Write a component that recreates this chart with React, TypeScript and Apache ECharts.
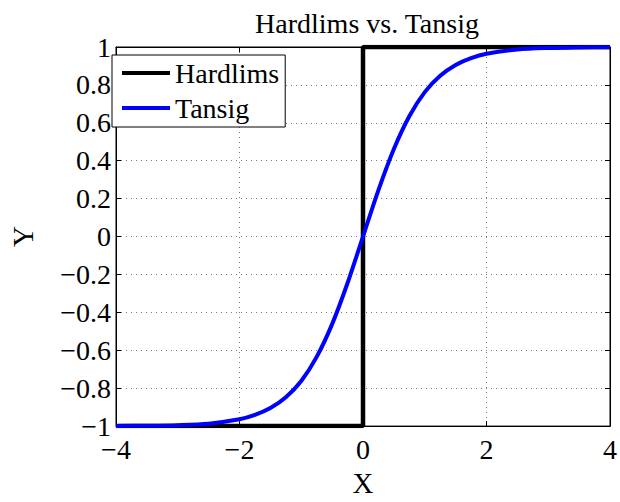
import React, { useEffect, useRef } from "react";
import * as echarts from "echarts";

const xValues = [-4, -3.5, -3, -2.5, -2, -1.75, -1.5, -1.25, -1, -0.75, -0.5, -0.25, 0, 0.25, 0.5, 0.75, 1, 1.25, 1.5, 1.75, 2, 2.5, 3, 3.5, 4];
const tansigValues = [-0.999, -0.998, -0.995, -0.987, -0.964, -0.941, -0.905, -0.848, -0.762, -0.635, -0.462, -0.245, 0, 0.245, 0.462, 0.635, 0.762, 0.848, 0.905, 0.941, 0.964, 0.987, 0.995, 0.998, 0.999];
const hardlimsX = [-4, 0, 0, 4];
const hardlimsY = [-1, -1, 1, 1];

const FONT = "Liberation Serif";
const fmt = (v: number) => {
  const s = String(Math.round(v * 10) / 10);
  return s.startsWith("-") ? "\u2212" + s.slice(1) : s;
};

export default function App() {
  const ref = useRef<HTMLDivElement>(null);
  useEffect(() => {
    if (!ref.current) return;
    const chart = echarts.init(ref.current, null, { renderer: "svg" });
    const tick = { show: true, inside: true, length: 5, lineStyle: { color: "#000" } };
    const line = { show: true, onZero: false, lineStyle: { color: "#000" } };
    const split = { show: true, lineStyle: { color: "#777", type: [1, 4], width: 1 } };
    chart.setOption({
      animation: false,
      backgroundColor: "#fff",
      title: {
        text: "Hardlims vs. Tansig",
        left: 362,
        top: 4,
        textAlign: "center",
        textStyle: { fontFamily: FONT, fontSize: 28, fontWeight: "normal", color: "#000" },
      },
      grid: { left: 104, right: 6, top: 47, bottom: 63, show: true, borderColor: "#000", borderWidth: 1 },
      legend: {
        left: 112,
        top: 55,
        orient: "vertical",
        icon: "rect",
        itemWidth: 48,
        itemHeight: 4,
        itemGap: 7,
        padding: [4, 6, 5, 10],
        borderColor: "#000",
        borderWidth: 1,
        backgroundColor: "#fff",
        textStyle: { fontFamily: FONT, fontSize: 28, color: "#000", lineHeight: 28 },
        data: ["Hardlims", "Tansig"],
      },
      xAxis: [
        {
          type: "value",
          min: -4,
          max: 4,
          interval: 2,
          name: "X",
          nameLocation: "middle",
          nameGap: 35,
          nameTextStyle: { fontFamily: FONT, fontSize: 29, color: "#000" },
          axisLine: line,
          axisTick: tick,
          axisLabel: { fontFamily: FONT, fontSize: 28, color: "#000", margin: 9, formatter: fmt },
          splitLine: split,
        },
        {
          type: "value",
          min: -4,
          max: 4,
          interval: 2,
          position: "top",
          axisLine: line,
          axisTick: tick,
          axisLabel: { show: false },
          splitLine: { show: false },
        },
      ],
      yAxis: [
        {
          type: "value",
          min: -1,
          max: 1,
          interval: 0.2,
          name: "Y",
          nameLocation: "middle",
          nameGap: 79,
          nameRotate: 90,
          nameTextStyle: { fontFamily: FONT, fontSize: 29, color: "#000" },
          axisLine: line,
          axisTick: tick,
          axisLabel: { fontFamily: FONT, fontSize: 28, color: "#000", margin: 5, formatter: fmt },
          splitLine: split,
        },
        {
          type: "value",
          min: -1,
          max: 1,
          interval: 0.2,
          position: "right",
          axisLine: line,
          axisTick: tick,
          axisLabel: { show: false },
          splitLine: { show: false },
        },
      ],
      series: [
        {
          name: "Hardlims",
          type: "line",
          data: hardlimsX.map((x, i) => [x, hardlimsY[i]]),
          showSymbol: false,
          symbol: "none",
          color: "#000",
          lineStyle: { color: "#000", width: 4.5 },
          z: 2,
        },
        {
          name: "Tansig",
          type: "line",
          data: xValues.map((x, i) => [x, tansigValues[i]]),
          showSymbol: false,
          symbol: "none",
          smooth: 0.3,
          color: "#0000ff",
          lineStyle: { color: "#0000ff", width: 4 },
          z: 3,
        },
      ],
    });
    return () => chart.dispose();
  }, []);
  return <div ref={ref} style={{ width: 620, height: 502, position: "absolute", left: 0, top: 0 }} />;
}
